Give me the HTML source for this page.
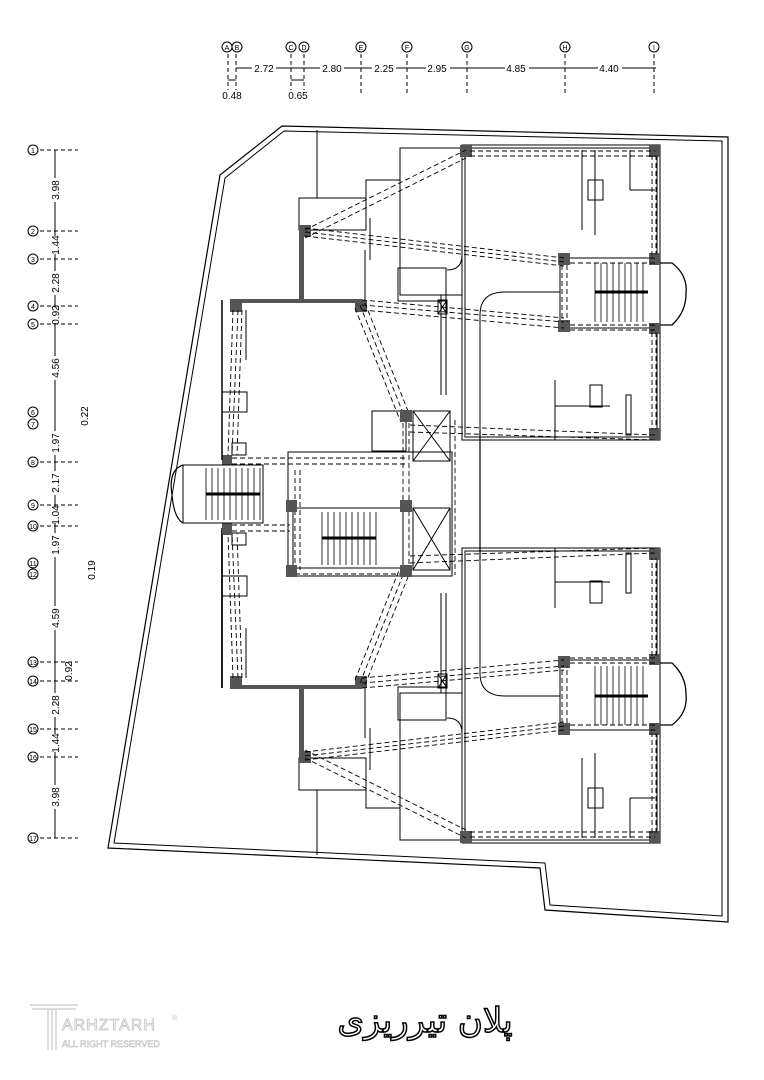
<!DOCTYPE html>
<html><head><meta charset="utf-8"><style>
html,body{margin:0;padding:0;background:#fff;width:764px;height:1080px;overflow:hidden}
svg{display:block}
text{font-family:"Liberation Sans",sans-serif;font-size:10px;fill:#000}
.c{font-size:7px;text-anchor:middle}
</style></head><body>
<svg width="764" height="1080" viewBox="0 0 764 1080" xmlns="http://www.w3.org/2000/svg">
<g fill="none" stroke="#000" stroke-width="1">
<!-- top grid -->
<g>
<line x1="236" y1="68" x2="656" y2="68"/>
<line x1="228" y1="80" x2="236" y2="80"/>
<line x1="291" y1="80" x2="304" y2="80"/>
<g stroke-dasharray="4,3">
<line x1="228" y1="54" x2="228" y2="90"/><line x1="236" y1="54" x2="236" y2="90"/>
<line x1="291" y1="54" x2="291" y2="90"/><line x1="304" y1="54" x2="304" y2="90"/>
<line x1="361" y1="54" x2="361" y2="95"/><line x1="407" y1="54" x2="407" y2="95"/>
<line x1="467" y1="54" x2="467" y2="95"/><line x1="565" y1="54" x2="565" y2="95"/>
<line x1="654" y1="54" x2="654" y2="95"/>
</g>
<circle cx="227" cy="47" r="5"/><circle cx="237" cy="47" r="5"/>
<circle cx="291" cy="47" r="5"/><circle cx="304" cy="47" r="5"/>
<circle cx="361" cy="47" r="5"/><circle cx="407" cy="47" r="5"/>
<circle cx="467" cy="47" r="5"/><circle cx="565" cy="47" r="5"/>
<circle cx="654" cy="47" r="5"/>
</g>
<!-- left grid -->
<g>
<line x1="55" y1="150" x2="55" y2="838"/>
<g stroke-dasharray="4,3">
<line x1="40" y1="150" x2="78" y2="150"/><line x1="40" y1="231" x2="78" y2="231"/>
<line x1="40" y1="259" x2="78" y2="259"/><line x1="40" y1="306" x2="78" y2="306"/>
<line x1="40" y1="324" x2="78" y2="324"/><line x1="40" y1="462" x2="78" y2="462"/>
<line x1="40" y1="505" x2="78" y2="505"/><line x1="40" y1="526" x2="78" y2="526"/>
<line x1="40" y1="662" x2="78" y2="662"/><line x1="40" y1="681" x2="78" y2="681"/>
<line x1="40" y1="729" x2="78" y2="729"/><line x1="40" y1="757" x2="78" y2="757"/>
<line x1="40" y1="838" x2="78" y2="838"/>
</g>
<circle cx="33" cy="150" r="5"/><circle cx="33" cy="231" r="5"/><circle cx="33" cy="259" r="5"/>
<circle cx="33" cy="306" r="5"/><circle cx="33" cy="324" r="5"/><circle cx="33" cy="412" r="5"/>
<circle cx="33" cy="424" r="5"/><circle cx="33" cy="462" r="5"/><circle cx="33" cy="505" r="5"/>
<circle cx="33" cy="526" r="5"/><circle cx="33" cy="563" r="5"/><circle cx="33" cy="574" r="5"/>
<circle cx="33" cy="662" r="5"/><circle cx="33" cy="681" r="5"/><circle cx="33" cy="729" r="5"/>
<circle cx="33" cy="757" r="5"/><circle cx="33" cy="838" r="5"/>
</g>
<!-- site boundary -->
<polygon points="282,126 728,137 728,922 545,910 540,868 108,848 220,175" stroke-width="1.2"/>
<polygon points="284,131 722,141 722,916 550,905 545,863 114,843 225,178" stroke-width="1"/>
<line x1="317" y1="130" x2="317" y2="198"/>
<line x1="317" y1="790" x2="317" y2="855"/>

<g id="half">
 <rect x="230" y="299" width="132" height="4" fill="#555" stroke="none"/>
 <rect x="299" y="230" width="5" height="72" fill="#555" stroke="none"/>
 <rect x="299" y="198" width="67" height="32"/>
 <polyline points="366,198 366,180 400,180 400,228"/>
 <rect x="400" y="148" width="62" height="147"/>
 <line x1="365" y1="300" x2="365" y2="250"/>
 <line x1="370" y1="260" x2="370" y2="218"/>
 <rect x="398" y="268" width="48" height="33"/>
 <line x1="441" y1="295" x2="441" y2="395"/><line x1="446" y1="300" x2="446" y2="395"/>
 <path d="M462 150 L462 255 Q462 270 447 270"/>
 <path d="M480 430 L480 315 Q480 292 505 292 L560 292"/>
 <rect x="462" y="145" width="198" height="295"/>
 <rect x="465" y="148" width="192" height="289"/>
 <line x1="595" y1="150" x2="595" y2="235"/><line x1="582" y1="150" x2="582" y2="230"/>
 <rect x="588" y="180" width="15" height="20"/>
 <line x1="630" y1="150" x2="630" y2="190"/>
 <line x1="630" y1="190" x2="655" y2="190"/>
 <line x1="555" y1="440" x2="555" y2="380"/>
 <rect x="590" y="385" width="12" height="22"/>
 <line x1="555" y1="406" x2="610" y2="406"/>
 <rect x="626" y="395" width="5" height="40"/>
 <rect x="560" y="258" width="100" height="70" fill="#fff"/>
 <line x1="595" y1="292" x2="648" y2="292" stroke-width="3"/>
 <g stroke-width="0.8">
 <line x1="595" y1="263" x2="595" y2="322"/><line x1="601" y1="263" x2="601" y2="322"/>
 <line x1="607" y1="263" x2="607" y2="322"/><line x1="613" y1="263" x2="613" y2="322"/>
 <line x1="619" y1="263" x2="619" y2="322"/><line x1="625" y1="263" x2="625" y2="322"/>
 <line x1="631" y1="263" x2="631" y2="322"/><line x1="637" y1="263" x2="637" y2="322"/>
 <line x1="643" y1="263" x2="643" y2="322"/>
 </g>
 <path d="M660 263 L672 263 Q688 275 686 294 Q686 312 672 325 L660 325" stroke-width="1.3"/>
 <g fill="#555" stroke="none">
 <rect x="460" y="145" width="12" height="12"/><rect x="649" y="145" width="11" height="12"/>
 <rect x="649" y="253" width="11" height="12"/><rect x="558" y="253" width="12" height="12"/>
 <rect x="558" y="320" width="12" height="12"/><rect x="649" y="323" width="11" height="11"/>
 <rect x="649" y="428" width="11" height="12"/>
 <rect x="299" y="225" width="12" height="12"/><rect x="230" y="300" width="12" height="12"/>
 <rect x="355" y="300" width="12" height="12"/>
 <rect x="222" y="455" width="10" height="10"/>
 </g>
 <line x1="222" y1="300" x2="222" y2="460" stroke-width="1.5"/>
 <line x1="246" y1="310" x2="246" y2="360"/>
 <rect x="222" y="392" width="25" height="20"/>
 <rect x="232" y="443" width="14" height="12"/>
 <g stroke-dasharray="5,3" stroke-width="0.9">
 <line x1="305" y1="230" x2="466" y2="150"/><line x1="305" y1="238" x2="466" y2="158"/>
 <line x1="305" y1="228" x2="564" y2="258"/><line x1="305" y1="236" x2="564" y2="266"/>
 <line x1="305" y1="232" x2="564" y2="262"/>
 <line x1="362" y1="305" x2="564" y2="322"/><line x1="362" y1="310" x2="564" y2="328"/>
 <line x1="362" y1="300" x2="564" y2="318"/>
 <line x1="360" y1="305" x2="405" y2="418"/><line x1="365" y1="303" x2="410" y2="416"/>
 <line x1="355" y1="308" x2="400" y2="420"/>
 <line x1="410" y1="425" x2="655" y2="435"/><line x1="410" y1="432" x2="655" y2="440"/>
 <line x1="470" y1="151" x2="655" y2="151"/><line x1="470" y1="156" x2="655" y2="156"/>
 <line x1="570" y1="258" x2="655" y2="258"/><line x1="570" y1="263" x2="655" y2="263"/>
 <line x1="570" y1="325" x2="655" y2="325"/><line x1="570" y1="330" x2="655" y2="330"/>
 <line x1="652" y1="155" x2="652" y2="255"/><line x1="656" y1="155" x2="656" y2="255"/>
 <line x1="652" y1="332" x2="652" y2="430"/><line x1="656" y1="332" x2="656" y2="430"/>
 <line x1="562" y1="265" x2="562" y2="322"/><line x1="567" y1="265" x2="567" y2="322"/>
 <line x1="233" y1="310" x2="228" y2="455"/><line x1="238" y1="310" x2="232" y2="455"/>
 <line x1="242" y1="310" x2="237" y2="455"/>
 </g>
 <rect x="438" y="300" width="9" height="14"/>
 <line x1="438" y1="300" x2="447" y2="314"/><line x1="447" y1="300" x2="438" y2="314"/>
</g>
<use href="#half" transform="translate(0,988) scale(1,-1)"/>

<line x1="222" y1="530" x2="222" y2="688" stroke-width="1.5"/>
<line x1="480" y1="430" x2="480" y2="560" stroke-width="1.2"/>
<rect x="183" y="465" width="80" height="58"/>
<path d="M183 465 Q168 470 172 495 Q174 518 183 523" stroke-width="1.2"/>
<line x1="206" y1="494" x2="260" y2="494" stroke-width="3"/>
<g stroke-width="0.8">
<line x1="206" y1="468" x2="206" y2="520"/><line x1="212" y1="468" x2="212" y2="520"/>
<line x1="218" y1="468" x2="218" y2="520"/><line x1="224" y1="468" x2="224" y2="520"/>
<line x1="230" y1="468" x2="230" y2="520"/><line x1="236" y1="468" x2="236" y2="520"/>
<line x1="242" y1="468" x2="242" y2="520"/><line x1="248" y1="468" x2="248" y2="520"/>
<line x1="254" y1="468" x2="254" y2="520"/><line x1="260" y1="468" x2="260" y2="520"/>
</g>
<rect x="288" y="452" width="164" height="124"/>
<rect x="372" y="411" width="34" height="40"/>
<rect x="413" y="411" width="37" height="50"/>
<line x1="413" y1="411" x2="450" y2="461"/><line x1="450" y1="411" x2="413" y2="461"/>
<rect x="413" y="508" width="37" height="62"/>
<line x1="413" y1="508" x2="450" y2="570"/><line x1="450" y1="508" x2="413" y2="570"/>
<rect x="293" y="508" width="110" height="60"/>
<line x1="322" y1="538" x2="376" y2="538" stroke-width="3"/>
<g stroke-width="0.8">
<line x1="322" y1="512" x2="322" y2="565"/><line x1="328" y1="512" x2="328" y2="565"/>
<line x1="334" y1="512" x2="334" y2="565"/><line x1="340" y1="512" x2="340" y2="565"/>
<line x1="346" y1="512" x2="346" y2="565"/><line x1="352" y1="512" x2="352" y2="565"/>
<line x1="358" y1="512" x2="358" y2="565"/><line x1="364" y1="512" x2="364" y2="565"/>
<line x1="370" y1="512" x2="370" y2="565"/><line x1="376" y1="512" x2="376" y2="565"/>
</g>
<g stroke-dasharray="5,3" stroke-width="0.9">
<line x1="232" y1="458" x2="405" y2="458"/><line x1="232" y1="464" x2="405" y2="464"/>
<line x1="232" y1="525" x2="290" y2="525"/><line x1="232" y1="531" x2="290" y2="531"/>
<line x1="295" y1="470" x2="295" y2="570"/><line x1="300" y1="470" x2="300" y2="570"/>
<line x1="403" y1="415" x2="403" y2="570"/><line x1="409" y1="415" x2="409" y2="570"/>
<line x1="455" y1="420" x2="455" y2="575"/>
<line x1="295" y1="568" x2="405" y2="568"/><line x1="295" y1="574" x2="405" y2="574"/>
</g>
<g fill="#555" stroke="none">
<rect x="286" y="500" width="11" height="12"/><rect x="400" y="410" width="12" height="12"/>
<rect x="400" y="500" width="12" height="12"/><rect x="286" y="565" width="11" height="12"/>
<rect x="400" y="565" width="12" height="12"/><rect x="222" y="525" width="10" height="10"/>
</g>
</g>

<g font-size="7">
<text class="c" x="227" y="50">A</text><text class="c" x="237" y="50">B</text>
<text class="c" x="291" y="50">C</text><text class="c" x="304" y="50">D</text>
<text class="c" x="361" y="50">E</text><text class="c" x="407" y="50">F</text>
<text class="c" x="467" y="50">G</text><text class="c" x="565" y="50">H</text>
<text class="c" x="654" y="50">I</text>
</g>
<g text-anchor="middle">
<rect x="252" y="62" width="24" height="12" fill="#fff"/>
<text x="264" y="72" text-anchor="middle">2.72</text>
<rect x="320" y="62" width="24" height="12" fill="#fff"/>
<text x="332" y="72" text-anchor="middle">2.80</text>
<rect x="372" y="62" width="24" height="12" fill="#fff"/>
<text x="384" y="72" text-anchor="middle">2.25</text>
<rect x="426" y="62" width="24" height="12" fill="#fff"/>
<text x="437" y="72" text-anchor="middle">2.95</text>
<rect x="505" y="62" width="24" height="12" fill="#fff"/>
<text x="516" y="72" text-anchor="middle">4.85</text>
<rect x="598" y="62" width="24" height="12" fill="#fff"/>
<text x="609" y="72" text-anchor="middle">4.40</text>
<text x="232" y="99" text-anchor="middle">0.48</text>
<text x="298" y="99" text-anchor="middle">0.65</text>
</g>
<g>
<text class="c" x="33" y="153">1</text><text class="c" x="33" y="234">2</text><text class="c" x="33" y="262">3</text>
<text class="c" x="33" y="309">4</text><text class="c" x="33" y="327">5</text><text class="c" x="33" y="415">6</text>
<text class="c" x="33" y="427">7</text><text class="c" x="33" y="465">8</text><text class="c" x="33" y="508">9</text>
<text class="c" x="33" y="529">10</text><text class="c" x="33" y="566">11</text><text class="c" x="33" y="577">12</text>
<text class="c" x="33" y="665">13</text><text class="c" x="33" y="684">14</text><text class="c" x="33" y="732">15</text>
<text class="c" x="33" y="760">16</text><text class="c" x="33" y="841">17</text>
</g>
<g fill="#fff">
<rect x="51" y="178" width="9" height="24"/><rect x="51" y="236" width="9" height="18"/>
<rect x="51" y="271" width="9" height="24"/><rect x="51" y="307" width="9" height="16"/>
<rect x="51" y="356" width="9" height="24"/><rect x="51" y="431" width="9" height="24"/>
<rect x="51" y="471" width="9" height="24"/><rect x="51" y="507" width="9" height="16"/>
<rect x="51" y="533" width="9" height="24"/><rect x="51" y="606" width="9" height="24"/>
<rect x="51" y="693" width="9" height="24"/><rect x="51" y="734" width="9" height="18"/>
<rect x="51" y="785" width="9" height="24"/>
</g>
<g text-anchor="middle">
<text transform="translate(59,190) rotate(-90)">3.98</text>
<text transform="translate(59,245) rotate(-90)">1.44</text>
<text transform="translate(59,283) rotate(-90)">2.28</text>
<text transform="translate(59,315) rotate(-90)">0.92</text>
<text transform="translate(59,368) rotate(-90)">4.56</text>
<text transform="translate(59,443) rotate(-90)">1.97</text>
<text transform="translate(59,483) rotate(-90)">2.17</text>
<text transform="translate(59,515) rotate(-90)">1.04</text>
<text transform="translate(59,545) rotate(-90)">1.97</text>
<text transform="translate(59,618) rotate(-90)">4.59</text>
<text transform="translate(72,671) rotate(-90)">0.92</text>
<text transform="translate(59,705) rotate(-90)">2.28</text>
<text transform="translate(59,743) rotate(-90)">1.44</text>
<text transform="translate(59,797) rotate(-90)">3.98</text>
<text transform="translate(88,416) rotate(-90)">0.22</text>
<text transform="translate(95,570) rotate(-90)">0.19</text>
</g>

<g fill="none" stroke="#bbb" stroke-width="1">
<line x1="30" y1="1005" x2="78" y2="1005"/><line x1="32" y1="1009" x2="76" y2="1009"/>
<line x1="48" y1="1009" x2="48" y2="1050"/><line x1="52" y1="1009" x2="52" y2="1050"/><line x1="56" y1="1009" x2="56" y2="1050"/>
</g>
<text x="62" y="1030" style="font-size:16px;fill:#fff;stroke:#bbb;stroke-width:0.7;letter-spacing:1px">ARHZTARH</text>
<text x="62" y="1047" style="font-size:9px;fill:#fff;stroke:#bbb;stroke-width:0.5">ALL RIGHT RESERVED</text>
<text x="172" y="1020" style="font-size:7px;fill:#bbb">®</text>
<text x="425" y="1032" text-anchor="middle" style="font-family:'DejaVu Sans','Noto Sans CJK SC',sans-serif;font-size:34px;fill:#fff;stroke:#000;stroke-width:1.5" direction="rtl">پلان تیرریزی</text>
</svg>
</body></html>
